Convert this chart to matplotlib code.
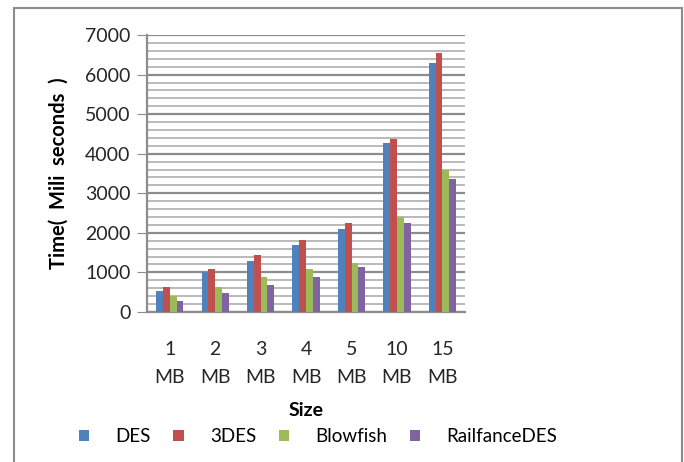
import matplotlib.pyplot as plt
from matplotlib.patches import Rectangle
import numpy as np

plt.rcParams['font.family'] = ['Lato', 'DejaVu Sans']

sizes = ['1\nMB', '2\nMB', '3\nMB', '4\nMB', '5\nMB', '10\nMB', '15\nMB']
des = [520, 1000, 1290, 1690, 2090, 4270, 6290]
des3 = [620, 1080, 1430, 1830, 2240, 4380, 6560]
blowfish = [410, 620, 880, 1080, 1230, 2400, 3590]
railfance = [270, 470, 680, 880, 1130, 2240, 3360]

series = [des, des3, blowfish, railfance]
names = ['DES', '3DES', 'Blowfish', 'RailfanceDES']
colors = ['#4F81BD', '#C0504D', '#9BBB59', '#8064A2']

fig = plt.figure(figsize=(6.84, 4.62), dpi=100)
ax = fig.add_axes([0.215, 0.325, 0.465, 0.599])

x = np.arange(len(sizes))
w = 0.15
for k, (vals, name, c) in enumerate(zip(series, names, colors)):
    ax.bar(x + (k - 1.5) * w, vals, w, color=c, label=name, zorder=3)

ax.set_xlim(-0.5, len(sizes) - 0.5)
ax.set_ylim(0, 7000)
ax.set_yticks(range(0, 7001, 1000))
ax.set_yticks(range(0, 7001, 200), minor=True)
ax.grid(axis='y', which='minor', color='#b4b4b4', lw=1.3, zorder=0)
ax.grid(axis='y', which='major', color='#8c8c8c', lw=1.6, zorder=1)
ax.tick_params(axis='y', which='major', length=7, color='#8c8c8c', labelsize=14,
               pad=5, labelcolor='#262626')
ax.tick_params(axis='y', which='minor', length=0)
ax.set_xticks(x)
ax.set_xticklabels(sizes, fontsize=14, linespacing=1.75, color='#262626')
ax.tick_params(axis='x', length=0, pad=21)

for s in ['top', 'right']:
    ax.spines[s].set_visible(False)
for s in ['left', 'bottom']:
    ax.spines[s].set_color('#8c8c8c')
    ax.spines[s].set_linewidth(1.6)

ax.set_ylabel('Time(  Mili  seconds  )', fontsize=14.5, fontweight='bold', labelpad=12)
ax.set_xlabel('Size', fontsize=14, fontweight='bold', labelpad=12)

fig.legend(loc='center', bbox_to_anchor=(0.465, 0.055), ncol=4, frameon=False,
           fontsize=13.5, handlelength=0.55, handleheight=0.6, columnspacing=1.2,
           handletextpad=1.4)

fig.patches.append(Rectangle((14 / 684, -0.1), 668 / 684, 1.1 - 8 / 462,
                             transform=fig.transFigure, fill=False,
                             edgecolor='#8c8c8c', lw=1.5))

fig.savefig('out.png', dpi=100)
